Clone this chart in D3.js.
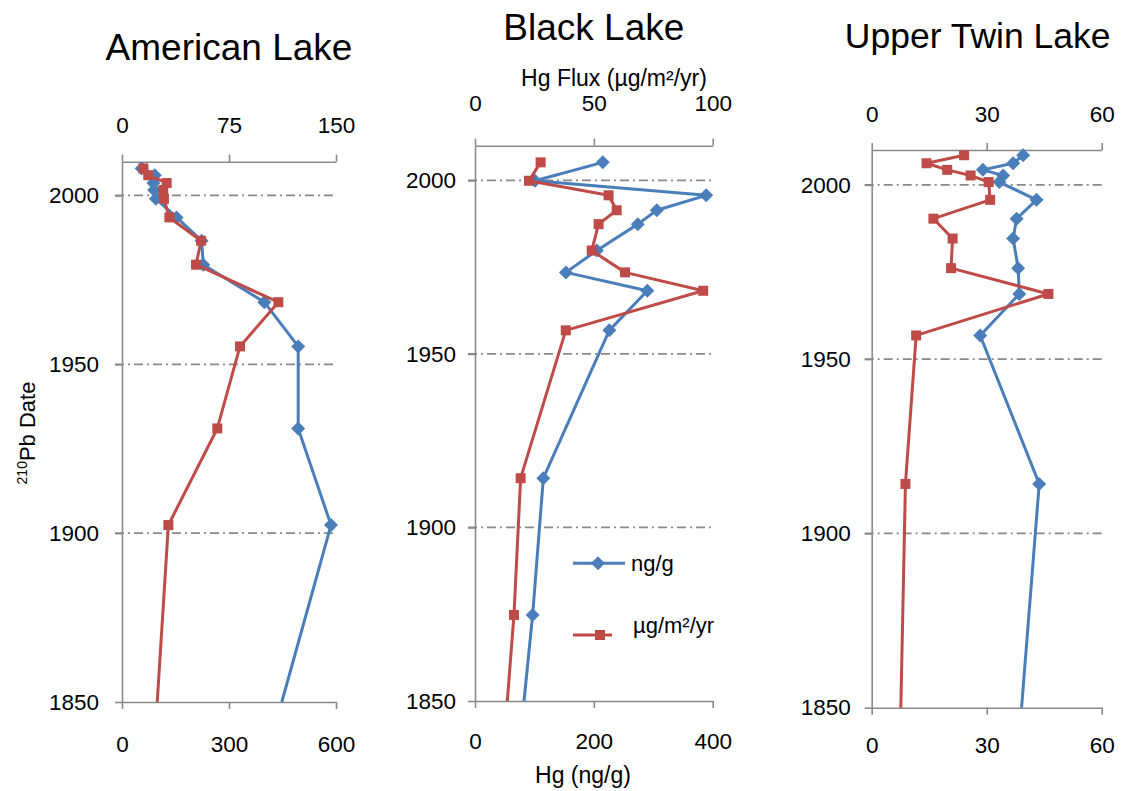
<!DOCTYPE html>
<html>
<head>
<meta charset="utf-8">
<script src="https://cdn.jsdelivr.net/npm/d3@7"></script>
<style>
  body { margin: 0; background: #fff; }
  text { font-family: "Liberation Sans", Arial, sans-serif; fill: #000; }
</style>
</head>
<body>
<script>
// Sediment core data (years from 210Pb dating)
const americanYears = [2008, 2006, 2003.7, 2001.6, 1999, 1993.5, 1986.6, 1979.5, 1968.4, 1955.3, 1931, 1902.4, 1850];
const americanHg    = [55, 92, 88, 90, 95, 153, 223, 228, 399, 494, 494, 586, 448];
const americanFlux  = [15, 18.4, 31.3, 28.9, 29.4, 33.2, 55.4, 51.9, 109.6, 82.7, 66.8, 32.5, 24.7];

const blackYears = [2005.2, 1999.9, 1995.7, 1991.4, 1987.4, 1979.8, 1973.5, 1968.2, 1956.8, 1914.2, 1874.8, 1850];
const blackHg    = [215, 101, 389, 306, 274, 205, 153, 290, 226, 115, 97, 82.5];
const blackFlux  = [27.6, 22.7, 56.2, 59.6, 52, 49.1, 63.1, 96, 38.2, 19.2, 16.4, 13.6];

const twinYears = [2008.5, 2006.2, 2004.3, 2002.7, 2000.8, 1995.7, 1990.3, 1984.6, 1976.1, 1968.7, 1956.8, 1914.2, 1850];
const twinHg    = [39.5, 36.9, 29, 34.3, 33.3, 43, 37.8, 36.9, 38.2, 38.5, 28.3, 43.7, 39.1];
const twinFlux  = [24.1, 14.3, 19.7, 25.8, 30.5, 30.9, 16.1, 21.1, 20.7, 46.1, 11.6, 8.8, 7.6];

const dateTicks = [1850, 1900, 1950, 2000];
const dateDomain = [2010, 1850];

const blue = "#4a7ebb", red = "#be4b48", gray = "#898989";

const svg = d3.select("body").append("svg")
  .attr("width", 1125).attr("height", 791);

const diamond = "M0,-7L7,0L0,7L-7,0Z";
const sq = 10;

const panels = [
  { title: "American Lake", years: americanYears, hg: americanHg, flux: americanFlux,
    hgDomain: [0, 600], hgTicks: [0, 300, 600], fluxDomain: [0, 150], fluxTicks: [0, 75, 150],
    x0: 122, x1: 336, y0: 161.7, y1: 702, titleY: 60,
    topPad: 22, botPad: 27, leftPad: 16 },
  { title: "Black Lake", years: blackYears, hg: blackHg, flux: blackFlux,
    hgDomain: [0, 400], hgTicks: [0, 200, 400], fluxDomain: [0, 100], fluxTicks: [0, 50, 100],
    x0: 475, x1: 712.7, y0: 145.7, y1: 701, titleY: 40,
    topPad: 28, botPad: 25, leftPad: 12 },
  { title: "Upper Twin Lake", years: twinYears, hg: twinHg, flux: twinFlux,
    hgDomain: [0, 60], hgTicks: [0, 30, 60], fluxDomain: [0, 60], fluxTicks: [0, 30, 60],
    x0: 871.7, x1: 1101.7, y0: 150, y1: 707.7, titleY: 48,
    topPad: 21, botPad: 22, leftPad: 14 }
];

panels.forEach((p, pi) => {
  const y = d3.scaleLinear().domain(dateDomain).range([p.y0, p.y1]);
  const xHg = d3.scaleLinear().domain(p.hgDomain).range([p.x0, p.x1]);
  const xFlux = d3.scaleLinear().domain(p.fluxDomain).range([p.x0, p.x1]);

  const g = svg.append("g");

  // title
  g.append("text")
    .attr("x", (p.x0 + p.x1) / 2 + (pi === 2 ? -9 : 0))
    .attr("y", p.titleY)
    .attr("text-anchor", "middle")
    .style("font-size", pi === 2 ? "35.5px" : "37px")
    .text(p.title);

  // gridlines (dash-dot)
  g.selectAll(".grid").data(dateTicks.filter(d => d > 1850)).enter()
    .append("line")
    .attr("x1", p.x0 - 7).attr("x2", p.x1)
    .attr("y1", d => y(d)).attr("y2", d => y(d))
    .attr("stroke", gray).attr("stroke-width", 1.7)
    .attr("stroke-dasharray", "9,4,2,4");

  // axes
  const styleAxis = sel => {
    sel.select(".domain").attr("stroke", gray).attr("stroke-width", 1.6);
    sel.selectAll(".tick line").attr("stroke", gray).attr("stroke-width", 1.6);
    sel.selectAll("text").style("font-size", "22.5px").attr("fill", "#000");
  };

  g.append("g").attr("transform", `translate(${p.x0},0)`)
    .call(d3.axisLeft(y).tickValues(dateTicks).tickFormat(d3.format("d"))
      .tickSize(7).tickSizeOuter(0).tickPadding(p.leftPad))
    .call(styleAxis);

  g.append("g").attr("transform", `translate(0,${p.y0})`)
    .call(d3.axisTop(xFlux).tickValues(p.fluxTicks).tickSize(7).tickSizeOuter(0).tickPadding(p.topPad))
    .call(styleAxis);

  g.append("g").attr("transform", `translate(0,${p.y1})`)
    .call(d3.axisBottom(xHg).tickValues(p.hgTicks).tickSize(7).tickSizeOuter(0).tickPadding(p.botPad))
    .call(styleAxis);

  // series
  const hgPts = p.years.map((yr, i) => ({ year: yr, v: p.hg[i] }));
  const fluxPts = p.years.map((yr, i) => ({ year: yr, v: p.flux[i] }));

  const hgLine = d3.line().x(d => xHg(d.v)).y(d => y(d.year));
  const fluxLine = d3.line().x(d => xFlux(d.v)).y(d => y(d.year));

  g.append("path").datum(hgPts)
    .attr("d", hgLine).attr("fill", "none")
    .attr("stroke", blue).attr("stroke-width", 3).attr("stroke-linejoin", "round");

  g.selectAll(".dia").data(hgPts.filter(d => d.year > dateDomain[1])).enter()
    .append("path")
    .attr("d", diamond)
    .attr("transform", d => `translate(${xHg(d.v)},${y(d.year)})`)
    .attr("fill", blue);

  g.append("path").datum(fluxPts)
    .attr("d", fluxLine).attr("fill", "none")
    .attr("stroke", red).attr("stroke-width", 3).attr("stroke-linejoin", "round");

  g.selectAll(".sq").data(fluxPts.filter(d => d.year > dateDomain[1])).enter()
    .append("rect")
    .attr("x", d => xFlux(d.v) - sq / 2).attr("y", d => y(d.year) - sq / 2)
    .attr("width", sq).attr("height", sq)
    .attr("fill", red);
});

// axis titles
svg.append("text").attr("x", 614).attr("y", 86).attr("text-anchor", "middle")
  .style("font-size", "23px").text("Hg Flux (µg/m²/yr)");

svg.append("text").attr("x", 583).attr("y", 783).attr("text-anchor", "middle")
  .style("font-size", "23px").text("Hg (ng/g)");

const yTitle = svg.append("text")
  .attr("transform", "translate(35,433) rotate(-90)")
  .attr("text-anchor", "middle")
  .style("font-size", "22px");
yTitle.append("tspan").style("font-size", "14px").attr("dy", "-8").text("210");
yTitle.append("tspan").attr("dy", "8").text("Pb Date");

// legend
const legend = svg.append("g");
legend.append("line").attr("x1", 573).attr("x2", 625).attr("y1", 563.3).attr("y2", 563.3)
  .attr("stroke", blue).attr("stroke-width", 3);
legend.append("path").attr("d", diamond).attr("transform", "translate(598,563.3)").attr("fill", blue);
legend.append("text").attr("x", 631).attr("y", 571).style("font-size", "22px").text("ng/g");

legend.append("line").attr("x1", 573).attr("x2", 612).attr("y1", 635).attr("y2", 635)
  .attr("stroke", red).attr("stroke-width", 3);
legend.append("rect").attr("x", 600 - sq / 2).attr("y", 635 - sq / 2).attr("width", sq).attr("height", sq).attr("fill", red);
legend.append("text").attr("x", 633).attr("y", 633).style("font-size", "22px").text("µg/m²/yr");
</script>
</body>
</html>
